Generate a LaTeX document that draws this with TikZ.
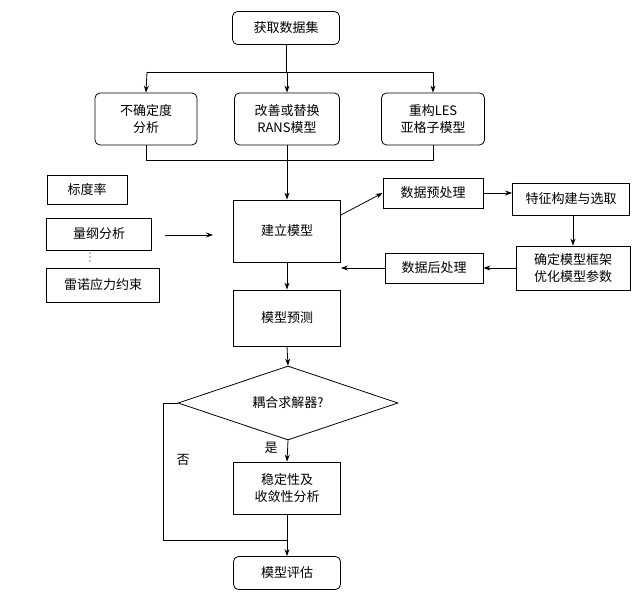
\documentclass[tikz,border=0pt]{standalone}
\usepackage{fontspec}
\setmainfont{Liberation Serif}
\newfontfamily\cjk{Noto Sans CJK SC}
\usetikzlibrary{shapes.geometric,arrows.meta}
\begin{document}
\begin{tikzpicture}[x=1pt,y=-1pt,
  box/.style={draw,thick,minimum width=#1,align=center,font=\cjk\fontsize{13}{17}\selectfont,inner sep=2pt},
  box/.default=107pt,
  rbox/.style={box=#1,rounded corners=5pt},
  rbox/.default=107pt,
  arr/.style={thick,-{Stealth[length=7pt,width=5pt]}},
  ln/.style={thick},
  dot/.style={fill,circle,inner sep=0pt,minimum size=1.3pt}]
\useasboundingbox (0,0) rectangle (640,601);
\node[rbox,minimum height=33pt] (get) at (286,28) {获取数据集};
\node[rbox=102pt,minimum height=52pt] (unc) at (146,119) {不确定度\\分析};
\node[rbox=105pt,minimum height=52pt] (rans) at (287,119) {改善或替换\\RANS模型};
\node[rbox=103pt,minimum height=52pt] (les) at (433,119) {重构LES\\亚格子模型};
\node[box,minimum height=62pt] (build) at (287,231) {建立模型};
\node[box=80pt,minimum height=29pt] (s1) at (87,190) {标度率};
\node[box=105pt,minimum height=32pt] (s2) at (99,234) {量纲分析};
\node[dot] (d1) at (90,253) {};
\node[dot] (d2) at (90,257) {};
\node[dot] (d3) at (90,261) {};
\node[box=113pt,minimum height=34pt] (s3) at (103,285) {雷诺应力约束};
\coordinate (la) at (165,235);
\coordinate (lb) at (213,235);
\node[box=100pt,minimum height=30pt] (pre) at (433,193) {数据预处理};
\node[box=117pt,minimum height=32pt] (feat) at (571,199) {特征构建与选取};
\node[box=114pt,minimum height=44pt] (opt) at (573,268) {确定模型框架\\优化模型参数};
\node[box=98pt,minimum height=30pt] (post) at (434,268) {数据后处理};
\node[box,minimum height=56pt] (pred) at (287,318) {模型预测};
\node[draw,thick,diamond,aspect=3,minimum width=220pt,minimum height=74pt,inner sep=0pt,font=\cjk\fontsize{13}{17}\selectfont] (dec) at (288,403) {耦合求解器?};
\node[box,minimum height=52pt] (stab) at (287,488) {稳定性及\\收敛性分析};
\node[rbox,minimum height=33pt] (eval) at (287,573) {模型评估};
\node[font=\cjk\fontsize{13}{17}\selectfont] (yes) at (271,448) {是};
\node[font=\cjk\fontsize{13}{17}\selectfont] (no) at (183,460) {否};
\draw[ln] (get.south) -- (286,72);
\draw[ln] (147,72) -- (433,72);
\draw[arr] (147,72) -- (unc.north);
\draw[arr] (rans.north |- 0,72) -- (rans.north);
\draw[arr] (433,72) -- (les.north);
\draw[ln] (unc.south) -- (146,160) -- (433,160) -- (les.south);
\draw[arr] (rans.south) -- (build.north);
\draw[arr] (la) -- (lb);
\draw[arr] (build.east |- 0,215) -- (pre.west);
\draw[arr] (pre.east) -- (pre.east -| feat.west);
\draw[arr] (feat.south -| opt.north) -- (opt.north);
\draw[arr] (opt.west) -- (post.east);
\draw[arr] (post.west) -- (build.east |- post.west);
\draw[arr] (build.south) -- (pred.north);
\draw[arr] (pred.south) -- (dec.north);
\draw[arr] (dec.south) -- (stab.north);
\draw[ln] (dec.west) -- (163,403) -- (163,540) -- (287,540);
\draw[arr] (stab.south) -- (eval.north);
\end{tikzpicture}
\end{document}
